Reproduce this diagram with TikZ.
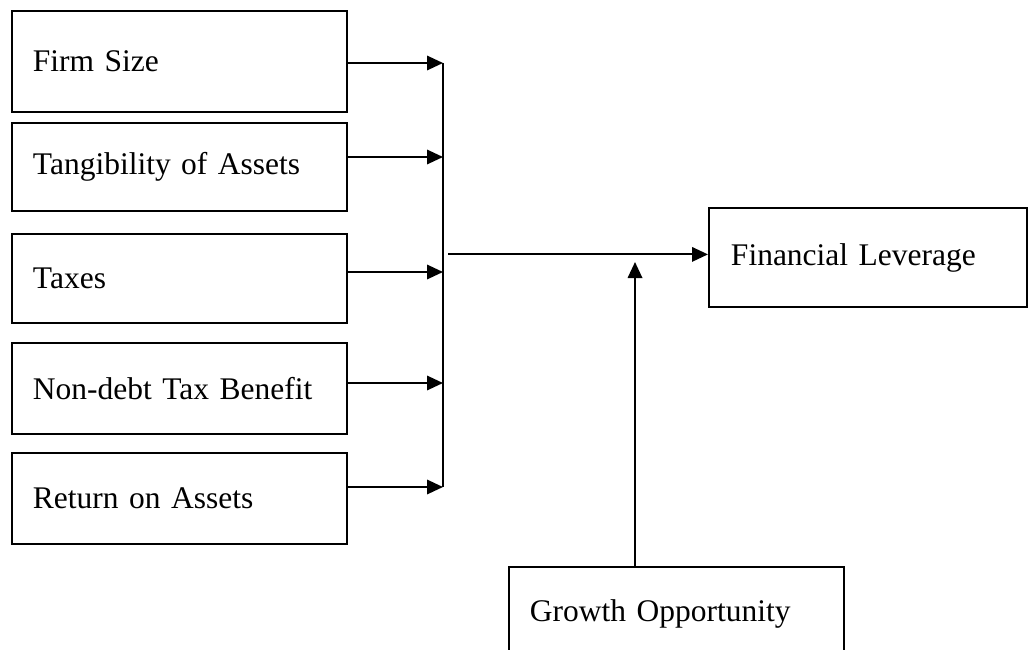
\documentclass[tikz,border=0pt]{standalone}
\usepackage{fontspec}
\setmainfont{Liberation Serif}
\usetikzlibrary{arrows.meta}

\tikzset{
  factor/.style={draw=black,line width=1.4pt,anchor=north west,
    minimum width=8.375cm,inner xsep=0.525cm,text width=7.325cm,align=left,
    font=\fontsize{22.4}{27}\selectfont},
  feed/.style={line width=1.5pt,-{Triangle[length=0.4cm,width=0.36cm]}}
}

\begin{document}
\begin{tikzpicture}
\useasboundingbox (0,0) rectangle (25.725,-16.225);

% determinants on the left
\node[factor,minimum height=2.525cm] (size) at (0.275,-0.25) {Firm Size};
\node[factor,minimum height=2.2cm] (tang) at (0.275,-3.05) {Tangibility of Assets};
\node[factor,minimum height=2.225cm] (tax) at (0.275,-5.825) {Taxes};
\node[factor,minimum height=2.275cm] (ndts) at (0.275,-8.55) {Non-debt Tax Benefit};
\node[factor,minimum height=2.275cm] (roa) at (0.275,-11.3) {Return on Assets};

% outcome and moderator
\node[factor,minimum width=7.95cm,text width=6.85cm,inner xsep=0.55cm,
  minimum height=2.475cm] (lev) at (17.7,-5.175) {Financial Leverage};
\node[factor,minimum height=2.35cm] (grow) at (12.7,-14.15) {Growth Opportunity};

% collecting bar
\coordinate (t1) at (11.075,-1.575);
\coordinate (t2) at (11.075,-3.925);
\coordinate (t3) at (11.075,-6.8);
\coordinate (t4) at (11.075,-9.575);
\coordinate (t5) at (11.075,-12.175);
\draw[line width=1.5pt] (t1) -- (t5);

\draw[feed] (t1 -| size.east) -- (t1);
\draw[feed] (t2 -| tang.east) -- (t2);
\draw[feed] (t3 -| tax.east) -- (t3);
\draw[feed] (t4 -| ndts.east) -- (t4);
\draw[feed] (t5 -| roa.east) -- (t5);

\coordinate (out) at (11.2,-6.36);
\draw[feed] (out) -- (out -| lev.west);

\coordinate (mod) at (15.875,-6.55);
\draw[feed] (mod |- grow.north) -- (mod);
\end{tikzpicture}
\end{document}
